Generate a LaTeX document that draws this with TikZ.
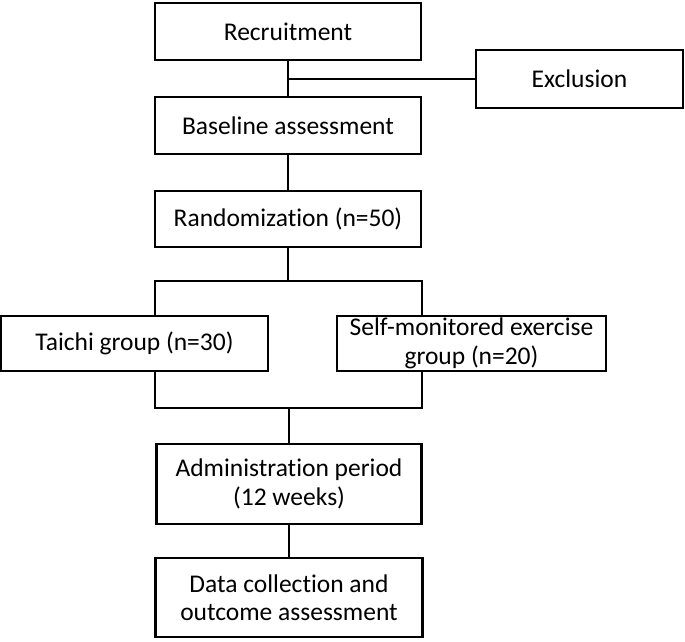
\documentclass[tikz,border=0pt]{standalone}
\usepackage{fontspec}
\setmainfont{Carlito}[Ligatures=NoCommon]
\usepackage{tikz}
\usetikzlibrary{positioning}

\begin{document}
\begin{tikzpicture}[x=1pt,y=-1pt]
\tikzstyle{every node}+=[inner sep=0pt]
\tikzstyle{box}=[draw=black, line width=2.2pt, align=center, font=\fontsize{25.5}{28.5}\selectfont]
\tikzstyle{link}=[line width=2.2pt]
\useasboundingbox (0,0) rectangle (685,641);
\node [box, minimum width=266pt, minimum height=57pt] (rec) at (288,31.5) {Recruitment};
\node [box, minimum width=207pt, minimum height=58pt] (excl) at (579.5,79) {Exclusion};
\node [box, minimum width=266pt, minimum height=57pt] (base) at (288,125.5) {Baseline assessment};
\node [box, minimum width=266pt, minimum height=56pt] (rand) at (288,219) {Randomization (n=50)};
\node [box, minimum width=267pt, minimum height=55pt] (taichi) at (134.5,343.5) {Taichi group (n=30)};
\node [box, minimum width=269pt, minimum height=55pt] (self) at (471.5,343.5) {Self-monitored exercise\\group (n=20)};
\node [box, minimum width=265pt, minimum height=80pt] (admin) at (289,484) {Administration period\\(12 weeks)};
\node [box, minimum width=267pt, minimum height=79pt] (data) at (289,597.5) {Data collection and\\outcome assessment};
\coordinate (split) at (288,79);
\coordinate (forkL) at (155,281);
\coordinate (forkR) at (422,281);
\coordinate (fork) at (288,281);
\coordinate (joinL) at (155,408);
\coordinate (joinR) at (422,408);
\coordinate (join) at (289,408);
\draw [link] (rec.south) -- (base.north);
\draw [link] (split) -- (excl.west);
\draw [link] (base.south) -- (rand.north);
\draw [link] (rand.south) -- (fork);
\draw [link] (taichi.north -| forkL) -- (forkL) -- (forkR) -- (self.north -| forkR);
\draw [link] (taichi.south -| joinL) -- (joinL) -- (joinR) -- (self.south -| joinR);
\draw [link] (join) -- (admin.north);
\draw [link] (admin.south) -- (data.north);
\end{tikzpicture}
\end{document}
